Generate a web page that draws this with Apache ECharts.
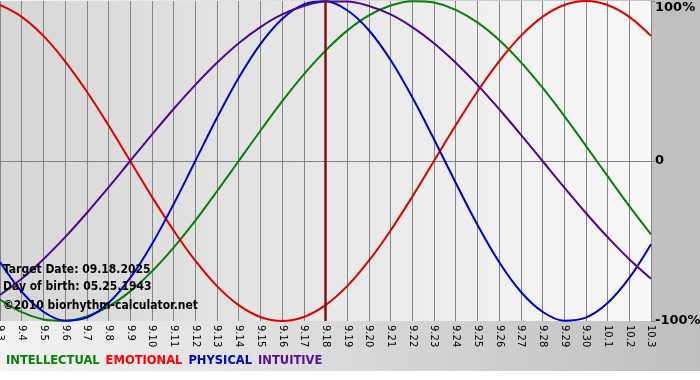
<!DOCTYPE html>
<html>
<head>
<meta charset="utf-8">
<script src="https://cdn.jsdelivr.net/npm/echarts@6/dist/echarts.min.js"></script>
<style>html,body{margin:0;padding:0;background:#fff}#c{width:700px;height:380px}</style>
</head>
<body>
<div id="c"></div>
<script>
const dates = ['9.3','9.4','9.5','9.6','9.7','9.8','9.9','9.10','9.11','9.12','9.13','9.14','9.15','9.16','9.17','9.18','9.19','9.20','9.21','9.22','9.23','9.24','9.25','9.26','9.27','9.28','9.29','9.30','10.1','10.2','10.3'];
const intellectual = [-86.6,-94.5,-99.0,-99.9,-97.2,-91.0,-81.5,-69.0,-54.1,-37.2,-18.9,0,18.9,37.2,54.1,69.0,81.5,91.0,97.2,99.9,99.0,94.5,86.6,75.6,61.8,45.8,28.2,9.5,-9.5,-28.2,-45.8];
const emotional = [97.5,90.1,78.2,62.3,43.4,22.3,0,-22.3,-43.4,-62.3,-78.2,-90.1,-97.5,-100,-97.5,-90.1,-78.2,-62.3,-43.4,-22.3,0,22.3,43.4,62.3,78.2,90.1,97.5,100,97.5,90.1,78.2];
const physical = [-63.1,-81.7,-94.2,-99.8,-97.9,-88.8,-73.1,-52.0,-27.0,0,27.0,52.0,73.1,88.8,97.9,99.8,94.2,81.7,63.1,39.8,13.6,-13.6,-39.8,-63.1,-81.7,-94.2,-99.8,-97.9,-88.8,-73.1,-52.0];
const intuitive = [-83.7,-73.6,-61.4,-47.6,-32.5,-16.5,0,16.5,32.5,47.6,61.4,73.6,83.7,91.6,96.9,99.7,99.7,96.9,91.6,83.7,73.6,61.4,47.6,32.5,16.5,0,-16.5,-32.5,-47.6,-61.4,-73.6];
const yTicks = {'100':'100%','0':'0','-100':'-100%'};
const targetDate = '9.18';
const infoLines = ['Target Date: 09.18.2025','Day of birth: 05.25.1943','\u00a92010 biorhythm-calculator.net'];

const names = ['INTELLECTUAL','EMOTIONAL','PHYSICAL','INTUITIVE'];
const lineColors = ['#0a7d0a','#e00000','#0000d0','#4b0a8c'];
const legendColors = ['#0a7d0a','#ff0000','#0000cc','#5a0a96'];
const datasets = [intellectual, emotional, physical, intuitive];

const chart = echarts.init(document.getElementById('c'), null, {renderer:'canvas'});
const series = names.map((n,i)=>({
  name:n, type:'line', data:datasets[i], smooth:0.35, symbol:'none',
  lineStyle:{color:lineColors[i], width:2}, itemStyle:{color:lineColors[i]},
  z: 3,
  markLine: i===0 ? {silent:true, symbol:'none', label:{show:false},
    lineStyle:{color:'#7a1414', width:2.5, type:'solid'}, data:[{xAxis:targetDate}], z:5} : undefined
}));

chart.setOption({
  animation:false,
  backgroundColor:{type:'linear',x:0,y:0,x2:1,y2:0,colorStops:[{offset:0,color:'#f2f2f2'},{offset:1,color:'#bfbfbf'}]},
  graphic:[
    {type:'rect', left:651, top:0, shape:{width:49,height:322}, style:{fill:'#c0c0c0'}, z:-10},
    {type:'rect', left:0, top:371, shape:{width:700,height:9}, style:{fill:'#ffffff'}, z:-10},
    ...infoLines.map((t,i)=>({type:'text', left:3, top:[264,281,300][i], z:10,
      style:{text:t, fill:'#000', font:'bold 12px "DejaVu Sans Condensed", "DejaVu Sans", sans-serif'}}))
  ],
  grid:{left:0, right:49, top:1, bottom:59, show:true, borderWidth:0, outerBoundsMode:'none', containLabel:false,
    backgroundColor:{type:'linear',x:0,y:0,x2:1,y2:0,colorStops:[{offset:0,color:'#d6d6d6'},{offset:1,color:'#f8f8f8'}]}},
  legend:{left:1, top:354, padding:0, icon:'none', itemWidth:0, itemGap:1, selectedMode:false,
    textStyle:{fontFamily:'DejaVu Sans', fontWeight:'bold', fontSize:11.5},
    data:names.map((n,i)=>({name:n, textStyle:{color:legendColors[i]}}))},
  xAxis:{type:'category', data:dates, boundaryGap:false,
    axisLine:{lineStyle:{color:'#808080'}},
    axisTick:{show:true, length:4, interval:0, lineStyle:{color:'#808080'}},
    axisLabel:{interval:0, rotate:-90, color:'#000', fontSize:10, fontFamily:'DejaVu Sans', margin:4},
    splitLine:{show:true, interval:0, lineStyle:{color:'#858585', width:1}}},
  yAxis:{type:'value', position:'right', min:-100, max:100, interval:100,
    axisLine:{show:false},
    axisTick:{show:true, length:4, lineStyle:{color:'#808080'}},
    axisLabel:{color:'#000', fontWeight:'bold', fontSize:13, fontFamily:'DejaVu Sans', margin:4,
      verticalAlignMaxLabel:'top',
      formatter:v=>yTicks[String(v)]},
    splitLine:{show:true, lineStyle:{color:['transparent','#858585','transparent'], width:1}}},
  series:series
});
</script>
</body>
</html>
